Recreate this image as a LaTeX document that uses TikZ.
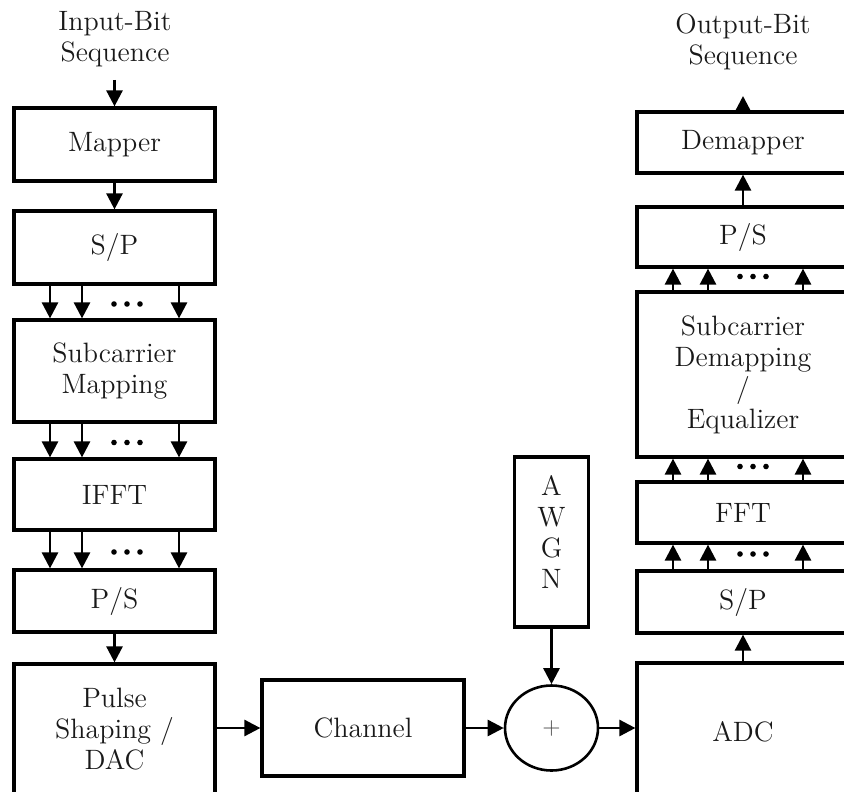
\documentclass[tikz,border=0pt]{standalone}
\usetikzlibrary{arrows.meta,shapes.geometric,calc}
\begin{document}
\begin{tikzpicture}[x=0.5pt,y=-0.5pt,
  box/.style={draw=black, line width=1.6pt, inner sep=0pt, align=center,
    text=black!90, font=\fontsize{14}{15.5}\selectfont},
  lbl/.style={inner sep=0pt, align=center, text=black!90, font=\fontsize{14}{15.5}\selectfont},
  arr/.style={line width=1.3pt, -{Triangle[length=8pt,width=8pt]}},
  dot/.style={fill=black}]
\useasboundingbox (0,0) rectangle (844,791);
% left column
\node[lbl] (inp) at (115,39) {Input-Bit\\Sequence};
\node[box, minimum width=100.5pt, minimum height=36.5pt] (map) at (114.5,144.5) {Mapper};
\node[box, minimum width=100.5pt, minimum height=36.5pt] (sp1) at (114.5,247.5) {S/P};
\node[box, minimum width=100.5pt, minimum height=51pt] (sub) at (114.5,371) {Subcarrier\\Mapping};
\node[box, minimum width=100.5pt, minimum height=35.5pt] (ifft) at (114.5,494.5) {IFFT};
\node[box, minimum width=100.5pt, minimum height=31pt] (ps1) at (114.5,601) {P/S};
\node[box, minimum width=100.5pt, minimum height=65pt] (pulse) at (114.5,729) {Pulse\\Shaping /\\DAC};
% middle
\node[box, minimum width=101pt, minimum height=48pt] (chan) at (363,728) {Channel};
\node[draw=black, line width=1.3pt, ellipse, inner sep=0pt, minimum width=46.5pt, minimum height=42.5pt,
  text=black!70, font=\fontsize{12.5}{14}\selectfont] (sum) at (551.5,728) {$+$};
\node[box, minimum width=37pt, minimum height=85pt, text depth=10.5pt] (awgn) at (551.5,542) {A\\W\\G\\N};
% right column
\node[box, minimum width=106pt, minimum height=68.5pt] (adc) at (743,731.5) {ADC};
\node[box, minimum width=106pt, minimum height=31pt] (sp2) at (743,602) {S/P};
\node[box, minimum width=106pt, minimum height=30.5pt] (fft) at (743,512.5) {FFT};
\node[box, minimum width=106pt, minimum height=82.5pt] (sdm) at (743,374.5) {Subcarrier\\Demapping\\/\\Equalizer};
\node[box, minimum width=106pt, minimum height=30pt] (ps2) at (743,237) {P/S};
\node[box, minimum width=106pt, minimum height=30.5pt] (dem) at (743,142.5) {Demapper};
\node[lbl] (outp) at (743,42) {Output-Bit\\Sequence};
% coordinates for free arrow ends
\coordinate (inA) at (114.5,80);
\coordinate (outA) at (743,96);
% single arrows
\draw[arr] (inA) -- (map.north);
\draw[arr] (map) -- (sp1);
\draw[arr] (ps1) -- (pulse);
\draw[arr] (pulse.east |- chan.west) -- (chan.west);
\draw[arr] (chan) -- (sum);
\draw[arr] (awgn) -- (sum);
\draw[arr] (sum.east) -- (sum.east -| adc.west);
\draw[arr] (adc) -- (sp2);
\draw[arr] (ps2) -- (dem);
\draw[arr] (dem.north) -- (outA);
% parallel arrows, left column (downwards)
\foreach \a/\b in {sp1/sub, sub/ifft, ifft/ps1}{
  \foreach \dx in {-64.5,-32.5,64.5}
    \draw[arr] ($(\a.south)+(\dx,0)$) -- ($(\b.north)+(\dx,0)$);
  \foreach \d in {-13,0,13}
    \fill[dot] ($(\a.south)!0.5!(\b.north)+(12.5+\d,2)$) circle (1.4pt);
}
% parallel arrows, right column (upwards)
\foreach \a/\b in {sp2/fft, fft/sdm, sdm/ps2}{
  \foreach \dx in {-70,-35,60}
    \draw[arr] ($(\a.north)+(\dx,0)$) -- ($(\b.south)+(\dx,0)$);
  \foreach \d in {-13,0,13}
    \fill[dot] ($(\a.north)!0.5!(\b.south)+(10+\d,-3)$) circle (1.4pt);
}
\end{tikzpicture}
\end{document}
